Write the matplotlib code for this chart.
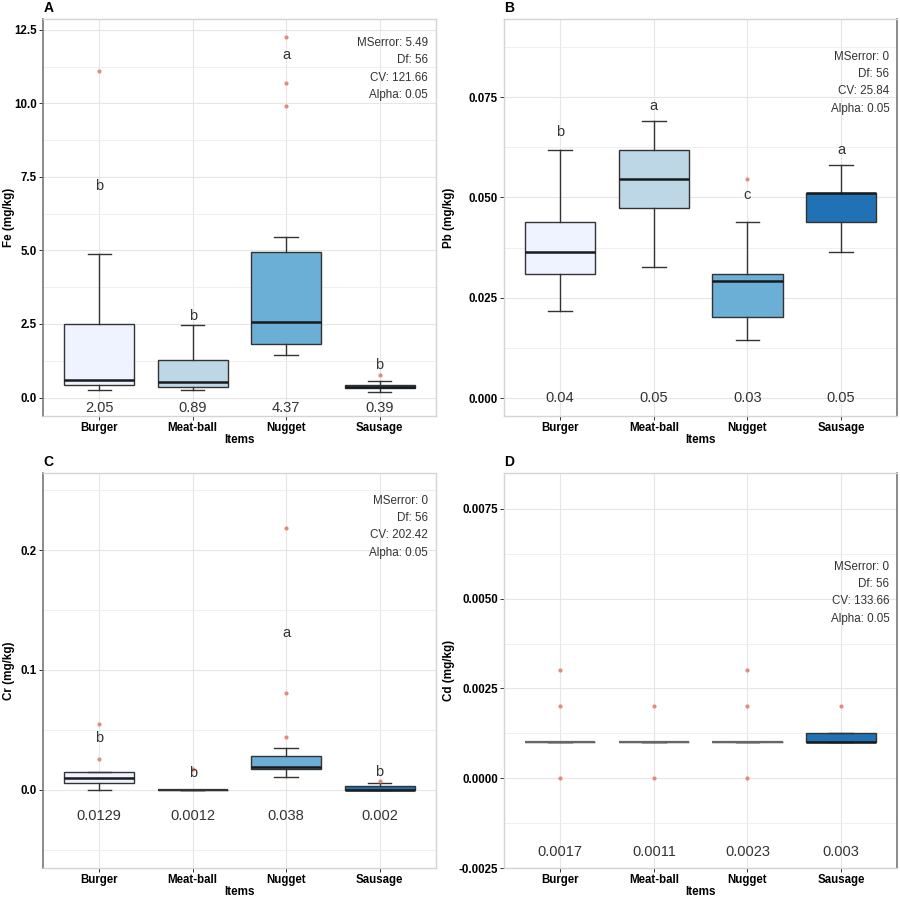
import matplotlib
matplotlib.use('Agg')
import matplotlib.pyplot as plt
from matplotlib.ticker import MultipleLocator

plt.rcParams['font.family'] = ['Liberation Sans', 'DejaVu Sans']
plt.rcParams['axes.unicode_minus'] = False

# Kategorien und Farben
items = ['Burger', 'Meat-ball', 'Nugget', 'Sausage']
fills = ['#eff3ff', '#bdd7e7', '#6baed6', '#2171b5']

# Panel A - Fe
fe_lo = [0.26, 0.26, 1.44, 0.18]
fe_q1 = [0.41, 0.36, 1.82, 0.32]
fe_med = [0.60, 0.54, 2.57, 0.37]
fe_q3 = [2.51, 1.29, 4.96, 0.43]
fe_hi = [4.89, 2.46, 5.47, 0.55]
fe_out = [[11.09], [], [12.25, 10.68, 9.90], [0.76]]
fe_mean = ['2.05', '0.89', '4.37', '0.39']
fe_grp = ['b', 'b', 'a', 'b']
fe_grp_y = [7.2, 2.76, 11.65, 1.12]
fe_stats = ['MSerror: 5.49', 'Df: 56', 'CV: 121.66', 'Alpha: 0.05']

# Panel B - Pb
pb_lo = [0.0218, 0.0326, 0.0145, 0.0363]
pb_q1 = [0.0310, 0.0473, 0.0201, 0.0439]
pb_med = [0.0364, 0.0546, 0.0292, 0.0511]
pb_q3 = [0.0438, 0.0619, 0.0310, 0.0511]
pb_hi = [0.0619, 0.0691, 0.0439, 0.0581]
pb_out = [[], [], [0.0546], []]
pb_mean = ['0.04', '0.05', '0.03', '0.05']
pb_grp = ['b', 'a', 'c', 'a']
pb_grp_y = [0.0664, 0.0727, 0.0506, 0.0617]
pb_stats = ['MSerror: 0', 'Df: 56', 'CV: 25.84', 'Alpha: 0.05']

# Panel C - Cr
cr_lo = [0.0, 0.0, 0.011, 0.0]
cr_q1 = [0.0056, 0.0, 0.0175, 0.0]
cr_med = [0.010, 0.0, 0.0189, 0.0]
cr_q3 = [0.0144, 0.0, 0.028, 0.0028]
cr_hi = [0.0144, 0.0, 0.0347, 0.0058]
cr_out = [[0.055, 0.026], [0.017], [0.218, 0.081, 0.0436], [0.007]]
cr_mean = ['0.0129', '0.0012', '0.038', '0.002']
cr_grp = ['b', 'b', 'a', 'b']
cr_grp_y = [0.043, 0.0139, 0.1306, 0.0144]
cr_stats = ['MSerror: 0', 'Df: 56', 'CV: 202.42', 'Alpha: 0.05']

# Panel D - Cd
cd_lo = [0.001, 0.001, 0.001, 0.001]
cd_q1 = [0.001, 0.001, 0.001, 0.001]
cd_med = [0.001, 0.001, 0.001, 0.001]
cd_q3 = [0.001, 0.001, 0.001, 0.00126]
cd_hi = [0.001, 0.001, 0.001, 0.00126]
cd_out = [[0.003, 0.002, 0.0], [0.002, 0.0], [0.003, 0.002, 0.0], [0.002]]
cd_mean = ['0.0017', '0.0011', '0.0023', '0.003']
cd_grp = ['', '', '', '']
cd_grp_y = [0, 0, 0, 0]
cd_stats = ['MSerror: 0', 'Df: 56', 'CV: 133.66', 'Alpha: 0.05']

panels = [
    dict(tag='A', ylab='Fe (mg/kg)', lo=fe_lo, q1=fe_q1, med=fe_med, q3=fe_q3, hi=fe_hi,
         out=fe_out, mean=fe_mean, grp=fe_grp, grp_y=fe_grp_y, stats=fe_stats,
         ylim=(-0.62, 12.87), major=2.5, mean_y=-0.35, stat_y=0.955, side='left',
         lab_x=-0.073, flat='#333333', rect=[0.048, 0.537, 0.436, 0.442]),
    dict(tag='B', ylab='Pb (mg/kg)', lo=pb_lo, q1=pb_q1, med=pb_med, q3=pb_q3, hi=pb_hi,
         out=pb_out, mean=pb_mean, grp=pb_grp, grp_y=pb_grp_y, stats=pb_stats,
         ylim=(-0.0044, 0.0945), major=0.025, mean_y=0.0, stat_y=0.92, side='right',
         lab_x=-0.125, flat='#333333', rect=[0.560, 0.537, 0.437, 0.442]),
    dict(tag='C', ylab='Cr (mg/kg)', lo=cr_lo, q1=cr_q1, med=cr_med, q3=cr_q3, hi=cr_hi,
         out=cr_out, mean=cr_mean, grp=cr_grp, grp_y=cr_grp_y, stats=cr_stats,
         ylim=(-0.0653, 0.2644), major=0.1, mean_y=-0.0222, stat_y=0.945, side='left',
         lab_x=-0.073, flat='#333333', rect=[0.048, 0.0334, 0.436, 0.440]),
    dict(tag='D', ylab='Cd (mg/kg)', lo=cd_lo, q1=cd_q1, med=cd_med, q3=cd_q3, hi=cd_hi,
         out=cd_out, mean=cd_mean, grp=cd_grp, grp_y=cd_grp_y, stats=cd_stats,
         ylim=(-0.0025, 0.0085), major=0.0025, mean_y=-0.00206, stat_y=0.778, side='right',
         lab_x=-0.125, flat='#666666', rect=[0.560, 0.0334, 0.437, 0.440]),
]

fig = plt.figure(figsize=(9, 8.98), dpi=100)

for p in panels:
    ax = fig.add_axes(p['rect'])
    pos = list(range(1, len(items) + 1))
    bstats = []
    for i in range(len(items)):
        bstats.append(dict(whislo=p['lo'][i], q1=p['q1'][i], med=p['med'][i],
                           q3=p['q3'][i], whishi=p['hi'][i], fliers=p['out'][i]))
    bp = ax.bxp(bstats, positions=pos, widths=0.75, patch_artist=True,
                boxprops=dict(edgecolor='#333333', linewidth=1.0),
                medianprops=dict(color='#1a1a1a', linewidth=1.8),
                whiskerprops=dict(color='#333333', linewidth=1.0),
                capprops=dict(color='#333333', linewidth=1.0),
                flierprops=dict(marker='o', markersize=3.0, markerfacecolor='#e0806f',
                                markeredgecolor='none', alpha=0.9),
                capwidths=0.25, zorder=3)
    for i, patch in enumerate(bp['boxes']):
        patch.set_facecolor(fills[i])
        # flache Boxen (q1 == q3) grau wie im Original
        if p['q1'][i] == p['q3'][i]:
            patch.set_edgecolor(p['flat'])
            bp['medians'][i].set_color(p['flat'])
            bp['medians'][i].set_linewidth(1.6)

    ax.set_xlim(0.4, 4.6)
    ax.set_ylim(*p['ylim'])
    ax.yaxis.set_major_locator(MultipleLocator(p['major']))
    ax.yaxis.set_minor_locator(MultipleLocator(p['major'] / 2))
    ax.set_xticks(pos)
    ax.set_xticklabels(items)
    ax.grid(True, which='major', color='#e6e6e6', linewidth=0.8, zorder=0)
    ax.grid(True, which='minor', axis='y', color='#eeeeee', linewidth=0.6, zorder=0)
    ax.set_axisbelow(True)
    ax.tick_params(axis='both', which='major', length=3, width=0.7, color='#333333',
                   labelsize=8.3, pad=1.5)
    ax.tick_params(axis='y', which='minor', length=0)
    for lab in ax.get_xticklabels() + ax.get_yticklabels():
        lab.set_fontweight('bold')
    ax.set_ylabel(p['ylab'], fontsize=8.4, fontweight='bold')
    ax.yaxis.set_label_coords(p['lab_x'], 0.5)
    ax.set_xlabel('Items', fontsize=8.4, fontweight='bold', labelpad=0)

    for s in ['top', 'bottom', 'left', 'right']:
        ax.spines[s].set_color('#d4d4d4')
        ax.spines[s].set_linewidth(1.0)
    ax.spines[p['side']].set_color('#777777')
    ax.spines[p['side']].set_linewidth(1.2)

    for i in range(len(items)):
        ax.text(pos[i], p['mean_y'], p['mean'][i], ha='center', va='center',
                fontsize=10.5, color='#333333')
        if p['grp'][i]:
            ax.text(pos[i], p['grp_y'][i], p['grp'][i], ha='center', va='center',
                    fontsize=10.5, color='#333333')

    ax.text(0.98, p['stat_y'], '\n'.join(p['stats']), transform=ax.transAxes,
            ha='right', va='top', fontsize=8.4, color='#333333', linespacing=1.6)
    ax.text(0.0, 1.01, p['tag'], transform=ax.transAxes, ha='left', va='bottom',
            fontsize=10, fontweight='bold')

fig.savefig('out.png', dpi=100)
